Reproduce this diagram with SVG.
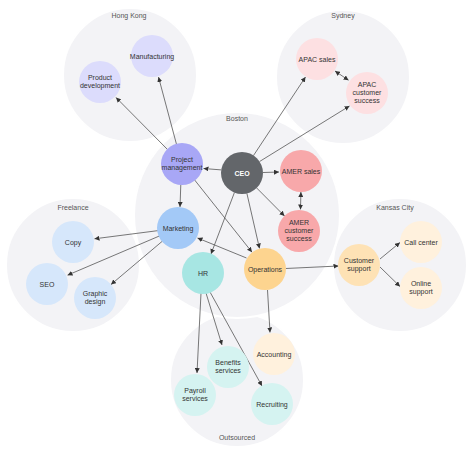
<svg xmlns="http://www.w3.org/2000/svg" width="474" height="455" viewBox="0 0 474 455">
<defs>
<marker id="ah" viewBox="0 0 10 10" refX="10" refY="5" markerWidth="5" markerHeight="5" markerUnits="userSpaceOnUse" orient="auto-start-reverse">
<path d="M0,0 L10,5 L0,10 z" fill="#333"/>
</marker>
<style>
.reg{fill:#f3f3f6;stroke:#ffffff;stroke-width:2}
.rl{font-family:"Liberation Sans",Arial,sans-serif;font-size:7px;fill:#555;text-anchor:middle}
.t{font-family:"Liberation Sans",Arial,sans-serif;font-size:7px;fill:#333;text-anchor:middle}
.tw{font-family:"Liberation Sans",Arial,sans-serif;font-size:7px;fill:#fff;text-anchor:middle;font-weight:bold}
.e{stroke:#555;stroke-width:0.8;fill:none;marker-end:url(#ah)}
.b{marker-start:url(#ah)}
</style>
</defs>
<rect width="474" height="455" fill="#ffffff"/>
<g id="regions">
<circle id="hongkong" class="reg" cx="130" cy="75" r="67"/>
<circle id="sydney" class="reg" cx="343" cy="77" r="67"/>
<circle id="freelance" class="reg" cx="73" cy="265" r="67"/>
<circle id="kansascity" class="reg" cx="400" cy="265" r="67"/>
<circle id="outsourced" class="reg" cx="237" cy="380" r="67"/>
<circle id="boston" class="reg" cx="237" cy="215" r="103"/>
<text class="rl" x="129" y="18">Hong Kong</text>
<text class="rl" x="343" y="18">Sydney</text>
<text class="rl" x="237" y="121">Boston</text>
<text class="rl" x="73" y="210">Freelance</text>
<text class="rl" x="395" y="210">Kansas City</text>
<text class="rl" x="237" y="440">Outsourced</text>
</g>
<g id="connectors">
<line class="e" x1="167.9" y1="149.9" x2="116" y2="97.5"/>
<line class="e" x1="176.6" y1="144.7" x2="158.5" y2="77"/>
<line class="e" x1="253.5" y1="155.5" x2="305.5" y2="77"/>
<line class="e" x1="259.6" y1="161.5" x2="349.5" y2="106"/>
<line class="e b" x1="335" y1="71" x2="348.6" y2="80.3"/>
<line class="e" x1="221.2" y1="169.9" x2="203.5" y2="168.5"/>
<line class="e" x1="263" y1="172.5" x2="279" y2="172"/>
<line class="e b" x1="300.9" y1="192" x2="300.5" y2="209.5"/>
<line class="e" x1="256.7" y1="188" x2="284.5" y2="216"/>
<line class="e" x1="234.4" y1="192.6" x2="211" y2="254"/>
<line class="e" x1="246.9" y1="193.4" x2="259.5" y2="248.5"/>
<line class="e" x1="180.8" y1="184.5" x2="180" y2="207"/>
<line class="e" x1="194.4" y1="179.7" x2="252" y2="252.2"/>
<line class="e" x1="246.5" y1="258" x2="197.5" y2="238"/>
<line class="e" x1="158.2" y1="230.6" x2="94.5" y2="238.8"/>
<line class="e" x1="159.6" y1="235.9" x2="67.5" y2="275.2"/>
<line class="e" x1="162.7" y1="240.9" x2="111" y2="284.5"/>
<line class="e" x1="285.5" y1="268.5" x2="338.5" y2="266"/>
<line class="e" x1="380" y1="259" x2="400" y2="242.5"/>
<line class="e" x1="380" y1="267" x2="400" y2="286.5"/>
<line class="e" x1="267.5" y1="290" x2="270" y2="332.5"/>
<line class="e" x1="201" y1="293" x2="197" y2="373"/>
<line class="e" x1="206" y1="293" x2="222" y2="345"/>
<line class="e" x1="210" y1="292" x2="262" y2="386"/>
</g>
<g id="n-productdev"><circle cx="100" cy="82" r="21" fill="#dcdcfc"/><text class="t" x="100" y="80">Product</text><text class="t" x="100" y="88">development</text></g>
<g id="n-manufacturing"><circle cx="152" cy="56" r="21" fill="#dcdcfc"/><text class="t" x="152" y="58.5">Manufacturing</text></g>
<g id="n-apacsales"><circle cx="317" cy="59" r="21" fill="#fde0e2"/><text class="t" x="317" y="61.5">APAC sales</text></g>
<g id="n-apaccs"><circle cx="367" cy="93" r="21" fill="#fde0e2"/><text class="t" x="367" y="87">APAC</text><text class="t" x="367" y="95">customer</text><text class="t" x="367" y="103">success</text></g>
<g id="n-pm"><circle cx="182" cy="164" r="21" fill="#a8a7f6"/><text class="t" x="182" y="162">Project</text><text class="t" x="182" y="170">management</text></g>
<g id="n-ceo"><circle cx="242" cy="173" r="21" fill="#63666a"/><text class="tw" x="242" y="175.5">CEO</text></g>
<g id="n-amersales"><circle cx="301" cy="171" r="21" fill="#f8a8aa"/><text class="t" x="301" y="173.5">AMER sales</text></g>
<g id="n-amercs"><circle cx="299" cy="231" r="21" fill="#f8a8aa"/><text class="t" x="299" y="225">AMER</text><text class="t" x="299" y="233">customer</text><text class="t" x="299" y="241">success</text></g>
<g id="n-marketing"><circle cx="178" cy="228" r="21" fill="#a3c9f7"/><text class="t" x="178" y="230.5">Marketing</text></g>
<g id="n-hr"><circle cx="203" cy="273" r="21" fill="#a7e6e3"/><text class="t" x="203" y="275.5">HR</text></g>
<g id="n-operations"><circle cx="265" cy="269" r="21" fill="#fdd48f"/><text class="t" x="265" y="271.5">Operations</text></g>
<g id="n-custsupport"><circle cx="359" cy="265" r="21" fill="#fee2b5"/><text class="t" x="359" y="263">Customer</text><text class="t" x="359" y="271">support</text></g>
<g id="n-callcenter"><circle cx="421" cy="242" r="21" fill="#fff1dd"/><text class="t" x="421" y="244.5">Call center</text></g>
<g id="n-onlinesupport"><circle cx="421" cy="288" r="21" fill="#fff1dd"/><text class="t" x="421" y="286">Online</text><text class="t" x="421" y="294">support</text></g>
<g id="n-copy"><circle cx="73" cy="242" r="21" fill="#d6e7fb"/><text class="t" x="73" y="244.5">Copy</text></g>
<g id="n-seo"><circle cx="47" cy="284" r="21" fill="#d6e7fb"/><text class="t" x="47" y="286.5">SEO</text></g>
<g id="n-graphic"><circle cx="95" cy="298" r="21" fill="#d6e7fb"/><text class="t" x="95" y="296">Graphic</text><text class="t" x="95" y="304">design</text></g>
<g id="n-accounting"><circle cx="274" cy="354" r="21" fill="#fff1dd"/><text class="t" x="274" y="356.5">Accounting</text></g>
<g id="n-benefits"><circle cx="228" cy="367" r="21" fill="#d5f3f1"/><text class="t" x="228" y="365">Benefits</text><text class="t" x="228" y="373">services</text></g>
<g id="n-payroll"><circle cx="195" cy="395" r="21" fill="#d5f3f1"/><text class="t" x="195" y="393">Payroll</text><text class="t" x="195" y="401">services</text></g>
<g id="n-recruiting"><circle cx="272" cy="404" r="21" fill="#d5f3f1"/><text class="t" x="272" y="406.5">Recruiting</text></g>
</svg>
